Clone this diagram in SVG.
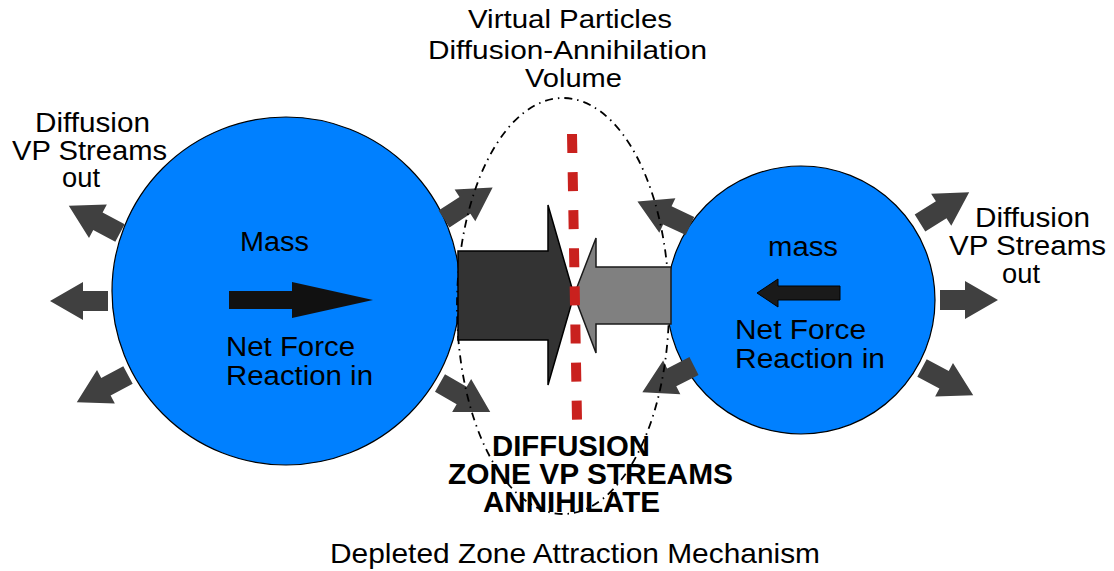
<svg xmlns="http://www.w3.org/2000/svg" xmlns:xlink="http://www.w3.org/1999/xlink" width="1114" height="571" viewBox="0 0 1114 571">
<style>
.t{font-family:"Liberation Sans",Arial,sans-serif;font-size:27px;fill:#000}
.b{font-family:"Liberation Sans",Arial,sans-serif;font-size:29px;font-weight:bold;fill:#000}
.mass{fill:#0080ff;stroke:#000;stroke-width:1.2}
.out{fill:#404040}
</style>
<defs>
<path id="sa" d="M0,-10 L25,-10 L25,-19 L58,0 L25,19 L25,10 L0,10 Z"/>
</defs>
<rect width="1114" height="571" fill="#fff"/>
<g id="mass-left">
<circle class="mass" cx="286" cy="291" r="174"/>
<path d="M229,291 L292,291 L292,282 L373,300 L292,318 L292,309 L229,309 Z" fill="#111"/>
<text class="t" x="240" y="251" textLength="69" lengthAdjust="spacingAndGlyphs">Mass</text>
<text class="t" x="226" y="356" textLength="129" lengthAdjust="spacingAndGlyphs">Net Force</text>
<text class="t" x="226" y="385" textLength="147" lengthAdjust="spacingAndGlyphs">Reaction in</text>
</g>
<g id="mass-right">
<circle class="mass" cx="801" cy="300" r="134"/>
<path d="M757,293 L778,279 L778,286 L840,286 L840,300 L778,300 L778,307 Z" fill="#1a1a1a" stroke="#000" stroke-width="1"/>
<text class="t" x="768" y="256" textLength="70" lengthAdjust="spacingAndGlyphs">mass</text>
<text class="t" x="735" y="339" textLength="131" lengthAdjust="spacingAndGlyphs">Net Force</text>
<text class="t" x="735" y="368" textLength="150" lengthAdjust="spacingAndGlyphs">Reaction in</text>
</g>
<g id="streams-out" class="out">
<use xlink:href="#sa" transform="translate(120,233) rotate(208)"/>
<use xlink:href="#sa" transform="translate(108,301) rotate(180)"/>
<use xlink:href="#sa" transform="translate(128,375) rotate(152)"/>
<use xlink:href="#sa" transform="translate(444,219) rotate(-33)"/>
<use xlink:href="#sa" transform="translate(440,383) rotate(30)"/>
<use xlink:href="#sa" transform="translate(690,226) rotate(205)"/>
<use xlink:href="#sa" transform="translate(694,366) rotate(153)"/>
<use xlink:href="#sa" transform="translate(920,223) rotate(-32)"/>
<use xlink:href="#sa" transform="translate(940,300)"/>
<use xlink:href="#sa" transform="translate(922,368) rotate(28)"/>
</g>
<g id="volume">
<ellipse cx="563" cy="306" rx="106" ry="208" fill="none" stroke="#000" stroke-width="1.8" stroke-dasharray="8 5 1.5 5"/>
</g>
<g id="connectors">
<path d="M458,251 L548,251 L548,205 L574,295 L548,385 L548,340 L458,340 Z" fill="#333" stroke="#000" stroke-width="1.5" stroke-linejoin="miter"/>
<path d="M671,267 L596,267 L596,238 L574,295 L596,353 L596,324 L671,324 Z" fill="#808080" stroke="#1a1a1a" stroke-width="1.5"/>
<line x1="572" y1="134" x2="577" y2="420" stroke="#c9211e" stroke-width="10" stroke-dasharray="19 19.1"/>
</g>
<g id="labels">
<text class="t" style="font-size:26px" x="468" y="28" textLength="204" lengthAdjust="spacingAndGlyphs">Virtual Particles</text>
<text class="t" style="font-size:26px" x="428" y="59" textLength="279" lengthAdjust="spacingAndGlyphs">Diffusion-Annihilation</text>
<text class="t" style="font-size:26px" x="525" y="87" textLength="97" lengthAdjust="spacingAndGlyphs">Volume</text>
<text class="t" x="35" y="132" textLength="115" lengthAdjust="spacingAndGlyphs">Diffusion</text>
<text class="t" x="12" y="160" textLength="155" lengthAdjust="spacingAndGlyphs">VP Streams</text>
<text class="t" x="62" y="187" textLength="38" lengthAdjust="spacingAndGlyphs">out</text>
<text class="t" x="975" y="227" textLength="115" lengthAdjust="spacingAndGlyphs">Diffusion</text>
<text class="t" x="949" y="255" textLength="157" lengthAdjust="spacingAndGlyphs">VP Streams</text>
<text class="t" x="1002" y="283" textLength="38" lengthAdjust="spacingAndGlyphs">out</text>
<text class="b" x="492" y="456" textLength="158" lengthAdjust="spacingAndGlyphs">DIFFUSION</text>
<text class="b" x="448" y="484" textLength="285" lengthAdjust="spacingAndGlyphs">ZONE VP STREAMS</text>
<text class="b" x="483" y="512" textLength="177" lengthAdjust="spacingAndGlyphs">ANNIHILATE</text>
<text class="t" style="font-size:28px" x="330" y="563" textLength="490" lengthAdjust="spacingAndGlyphs">Depleted Zone Attraction Mechanism</text>
</g>
</svg>
